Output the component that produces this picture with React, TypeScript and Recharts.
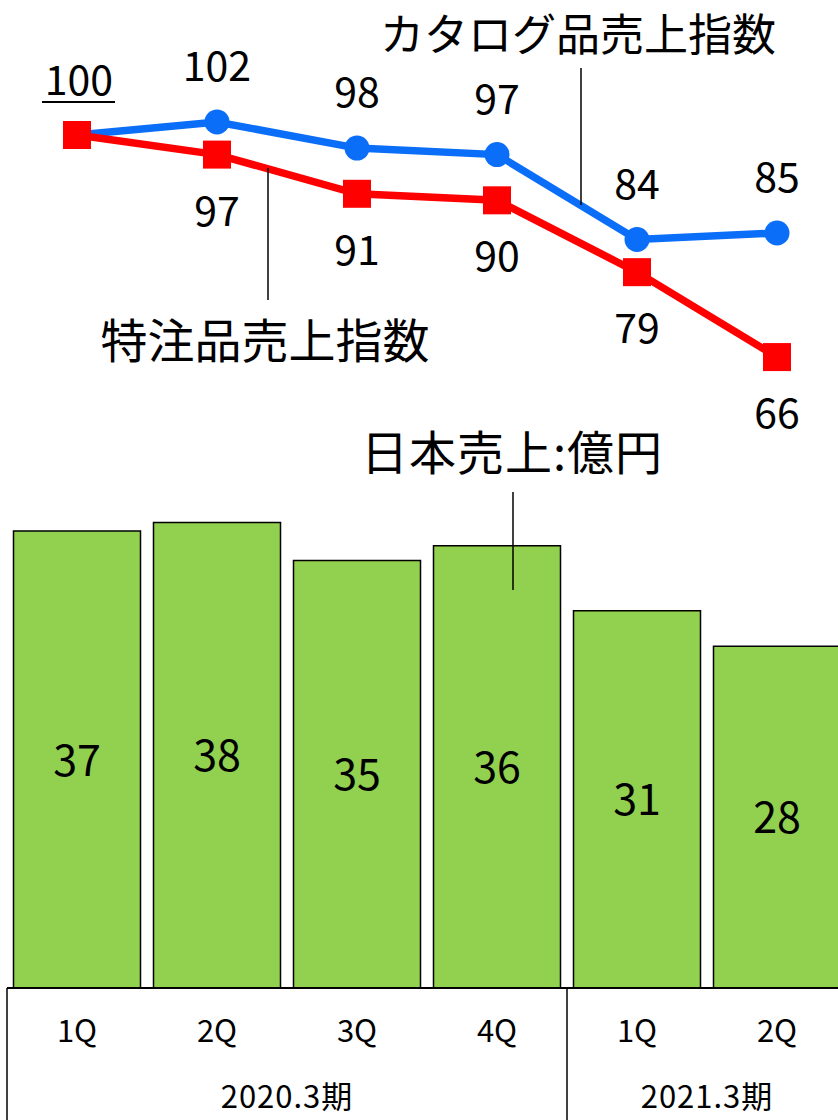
import { ComposedChart, Bar, Line, XAxis, YAxis, LabelList } from "recharts";

const quarters = ["1Q", "2Q", "3Q", "4Q", "1Q", "2Q"];
const periods = ["2020.3期", "2020.3期", "2020.3期", "2020.3期", "2021.3期", "2021.3期"];
const japanSales = [37.3, 38.0, 34.9, 36.1, 30.8, 27.9];
const catalogIndex = [100, 102, 98, 97, 84, 85];
const customIndex = [100, 97, 91, 90, 79, 66];

const data = quarters.map((q, i) => ({
  q,
  period: periods[i],
  sales: japanSales[i],
  catalog: catalogIndex[i],
  custom: customIndex[i],
}));

const FONT = '"Noto Sans CJK JP", "Noto Sans", sans-serif';
const BLUE = "#0B6EF8";
const RED = "#FF0000";
const GREEN = "#92D050";
const CHART_W = 850;
const MARGIN_L = 7;
const MARGIN_R = 3;
const SLOT = (CHART_W - MARGIN_L - MARGIN_R) / quarters.length;

const QuarterTick = (props: any) => {
  const { x, y, index } = props;
  const first = periods.indexOf(periods[index]);
  const last = periods.lastIndexOf(periods[index]);
  const isFirst = first === index;
  return (
    <g>
      <text
        x={x}
        y={y + 40}
        textAnchor="middle"
        dominantBaseline="central"
        fontSize={31}
        fontFamily={FONT}
        fill="#000"
      >
        {quarters[index]}
      </text>
      {isFirst && (
        <>
          <line x1={x - SLOT / 2} x2={x - SLOT / 2} y1={y} y2={y + 140} stroke="#000" strokeWidth={1.5} />
          <text
            x={x + ((last - first) * SLOT) / 2}
            y={y + 106}
            textAnchor="middle"
            dominantBaseline="central"
            fontSize={31}
            fontFamily={FONT}
            letterSpacing={1}
            fill="#000"
          >
            {periods[index]}
          </text>
        </>
      )}
    </g>
  );
};

const SquareDot = (props: any) => {
  const { cx, cy } = props;
  if (cx == null || cy == null) return null;
  return <rect x={cx - 14} y={cy - 14} width={28} height={28} fill={RED} />;
};

const CatalogLabel = (props: any) => {
  const { x, y, value, index } = props;
  if (index === 0) {
    return (
      <g>
        <text x={x + 2} y={y - 58} textAnchor="middle" dominantBaseline="central" fontSize={41} fontFamily={FONT} fill="#000">
          {value}
        </text>
        <line x1={x - 35} x2={x + 38} y1={y - 33} y2={y - 33} stroke="#000" strokeWidth={2} />
      </g>
    );
  }
  return (
    <text x={x} y={y - 59} textAnchor="middle" dominantBaseline="central" fontSize={41} fontFamily={FONT} fill="#000">
      {value}
    </text>
  );
};

const CustomLabel = (props: any) => {
  const { x, y, value, index } = props;
  if (index === 0) return null;
  return (
    <text x={x} y={y + 53} textAnchor="middle" dominantBaseline="central" fontSize={41} fontFamily={FONT} fill="#000">
      {value}
    </text>
  );
};

const SalesLabel = (props: any) => {
  const { x, y, width, height, value } = props;
  return (
    <text
      x={x + width / 2}
      y={y + height / 2 - 3}
      textAnchor="middle"
      dominantBaseline="central"
      fontSize={43}
      fontFamily={FONT}
      fill="#000"
    >
      {Math.round(value)}
    </text>
  );
};

export default function App() {
  return (
    <div
      style={{
        position: "absolute",
        left: 0,
        top: 0,
        width: 838,
        height: 1120,
        overflow: "hidden",
        background: "#fff",
      }}
    >
      <ComposedChart
        width={CHART_W}
        height={1120}
        data={data}
        margin={{ top: 0, right: MARGIN_R, left: MARGIN_L, bottom: 0 }}
        barCategoryGap={6.5}
      >
        <XAxis
          dataKey="q"
          height={132}
          tickLine={false}
          tickSize={0}
          tickMargin={0}
          interval={0}
          axisLine={{ stroke: "#000", strokeWidth: 2 }}
          tick={<QuarterTick />}
        />
        <YAxis yAxisId="bar" hide domain={[0, 80.65]} allowDataOverflow />
        <YAxis yAxisId="idx" hide orientation="right" domain={[-30.6, 120.67]} allowDataOverflow />
        <Bar yAxisId="bar" dataKey="sales" fill={GREEN} stroke="#000" strokeWidth={1.5} isAnimationActive={false}>
          <LabelList dataKey="sales" content={<SalesLabel />} />
        </Bar>
        <Line
          yAxisId="idx"
          dataKey="catalog"
          stroke={BLUE}
          strokeWidth={7.5}
          dot={{ r: 12.5, fill: BLUE, stroke: "none" }}
          activeDot={false}
          isAnimationActive={false}
        >
          <LabelList dataKey="catalog" content={<CatalogLabel />} />
        </Line>
        <Line
          yAxisId="idx"
          dataKey="custom"
          stroke={RED}
          strokeWidth={7.5}
          dot={<SquareDot />}
          activeDot={false}
          isAnimationActive={false}
        >
          <LabelList dataKey="custom" content={<CustomLabel />} />
        </Line>
      </ComposedChart>
      <svg
        width={838}
        height={1120}
        style={{ position: "absolute", left: 0, top: 0, pointerEvents: "none" }}
      >
        <g fontFamily={FONT} fill="#000">
          <text x={578} y={32} textAnchor="middle" dominantBaseline="central" fontSize={44}>
            カタログ品売上指数
          </text>
          <line x1={581} x2={581} y1={68} y2={205} stroke="#000" strokeWidth={1.5} />
          <text x={265} y={337} textAnchor="middle" dominantBaseline="central" fontSize={47}>
            特注品売上指数
          </text>
          <line x1={268} x2={268} y1={168} y2={300} stroke="#000" strokeWidth={1.5} />
          <text x={512} y={449} textAnchor="middle" dominantBaseline="central" fontSize={47} letterSpacing={1}>
            日本売上:億円
          </text>
          <line x1={513} x2={513} y1={492} y2={590} stroke="#000" strokeWidth={1.5} />
        </g>
      </svg>
    </div>
  );
}
